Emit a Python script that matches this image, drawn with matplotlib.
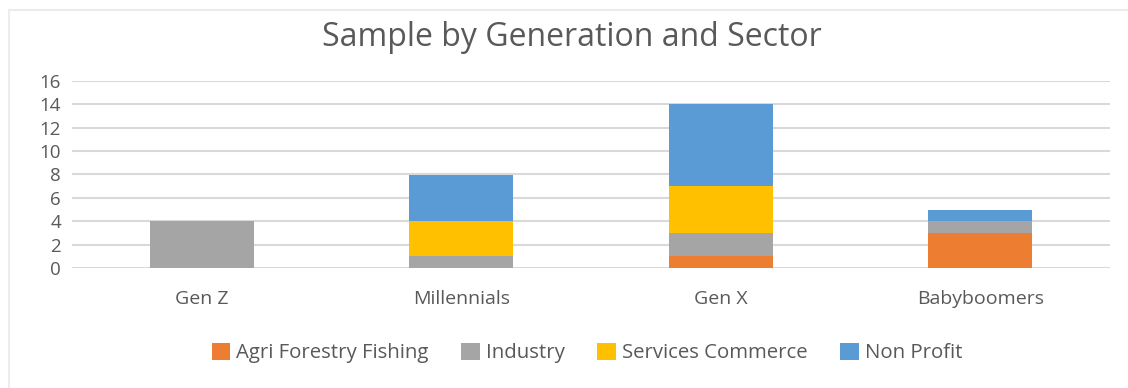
import matplotlib
matplotlib.use("Agg")
import matplotlib.pyplot as plt
from matplotlib.lines import Line2D
from matplotlib.patches import Patch
import numpy as np

plt.rcParams['font.family'] = ['Open Sans', 'DejaVu Sans']

generations = ["Gen Z", "Millennials", "Gen X", "Babyboomers"]
sectors = ["Agri Forestry Fishing", "Industry", "Services Commerce", "Non Profit"]
agri = [0, 0, 1, 3]
industry = [4, 1, 2, 1]
services = [0, 3, 4, 0]
non_profit = [0, 4, 7, 1]
colors = ["#ED7D31", "#A5A5A5", "#FFC000", "#5B9BD5"]
y_ticks = [0, 2, 4, 6, 8, 10, 12, 14, 16]

W, H = 1128, 388
fig = plt.figure(figsize=(W / 100, H / 100), dpi=100)

# thin chart frame along the top and left edges
fig.add_artist(Line2D([9 / W, 9 / W], [0, 1 - 10 / H], color="#ececec", lw=1.5))
fig.add_artist(Line2D([9 / W, 1], [1 - 10 / H, 1 - 10 / H], color="#ececec", lw=1.5))

ax = fig.add_axes([72 / W, 1 - 268 / H, 1038 / W, 187 / H])
x = np.arange(len(generations))
bottom = np.zeros(len(generations))
for vals, col, name in zip([agri, industry, services, non_profit], colors, sectors):
    ax.bar(x, vals, width=0.4, bottom=bottom, color=col, label=name, zorder=3)
    bottom += np.array(vals)

ax.set_xlim(-0.5, len(generations) - 0.5)
ax.set_ylim(0, 16)
ax.set_yticks(y_ticks)
ax.set_yticklabels([str(t) for t in y_ticks])
ax.yaxis.grid(True, color="#d9d9d9", lw=1.5, zorder=0)
ax.set_axisbelow(True)
for s in ax.spines.values():
    s.set_visible(False)
ax.tick_params(axis="y", length=0, pad=8, labelsize=13.5, labelcolor="#595959")
ax.tick_params(axis="x", length=0, pad=16, labelsize=14, labelcolor="#595959")
ax.set_xticks(x)
ax.set_xticklabels(generations)

fig.text(572 / W, 1 - 37 / H, "Sample by Generation and Sector", ha="center", va="center",
         fontsize=23, color="#595959")

handles = [Patch(facecolor=c, label=n) for c, n in zip(colors, sectors)]
fig.legend(handles=handles, loc="center", bbox_to_anchor=(587 / W, 1 - 353 / H), ncol=4,
           frameon=False, fontsize=14.7, labelcolor="#595959", handlelength=0.9,
           handleheight=0.9, handletextpad=0.3, columnspacing=1.6)

fig.savefig("out.png", dpi=100, facecolor="white")
